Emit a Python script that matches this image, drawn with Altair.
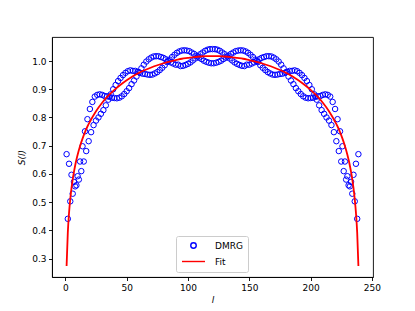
import altair as alt
import pandas as pd

# site index l = 1 .. 239
l_values = list(range(1, 240))

# DMRG entanglement entropy, l = 1 .. 120
dmrg_left = [
    0.670, 0.441, 0.636, 0.503, 0.597, 0.530, 0.572, 0.556, 0.560, 0.592,
    0.580, 0.644, 0.610, 0.698, 0.644, 0.751, 0.681, 0.794, 0.716, 0.830,
    0.748, 0.855, 0.773, 0.874, 0.789, 0.880, 0.800, 0.882, 0.813, 0.880,
    0.826, 0.876, 0.843, 0.875, 0.863, 0.873, 0.882, 0.870, 0.900, 0.869,
    0.915, 0.868, 0.929, 0.870, 0.940, 0.875, 0.950, 0.883, 0.958, 0.893,
    0.964, 0.904, 0.967, 0.918, 0.965, 0.931, 0.965, 0.945, 0.962, 0.960,
    0.958, 0.974, 0.955, 0.987, 0.954, 0.998, 0.952, 1.006, 0.951, 1.012,
    0.952, 1.016, 0.956, 1.017, 0.961, 1.017, 0.968, 1.014, 0.976, 1.011,
    0.985, 1.006, 0.996, 1.000, 1.005, 0.995, 1.014, 0.991, 1.022, 0.987,
    1.029, 0.987, 1.034, 0.982, 1.037, 0.983, 1.038, 0.986, 1.037, 0.990,
    1.035, 0.995, 1.030, 1.002, 1.025, 1.009, 1.019, 1.016, 1.012, 1.024,
    1.007, 1.030, 1.001, 1.036, 0.997, 1.040, 0.994, 1.042, 0.992, 1.042,
]
# DMRG entanglement entropy, l = 121 .. 239
dmrg_right = [
    0.992, 1.042, 0.994, 1.040, 0.997, 1.036, 1.001, 1.030, 1.007, 1.024,
    1.012, 1.016, 1.019, 1.009, 1.025, 1.002, 1.030, 0.995, 1.035, 0.990,
    1.037, 0.986, 1.038, 0.983, 1.037, 0.982, 1.034, 0.987, 1.029, 0.987,
    1.022, 0.991, 1.014, 0.995, 1.005, 1.000, 0.996, 1.006, 0.985, 1.011,
    0.976, 1.014, 0.968, 1.017, 0.961, 1.017, 0.956, 1.016, 0.952, 1.012,
    0.951, 1.006, 0.952, 0.998, 0.954, 0.987, 0.955, 0.974, 0.958, 0.960,
    0.962, 0.945, 0.965, 0.931, 0.965, 0.918, 0.967, 0.904, 0.964, 0.893,
    0.958, 0.883, 0.950, 0.875, 0.940, 0.870, 0.929, 0.868, 0.915, 0.869,
    0.900, 0.870, 0.882, 0.873, 0.863, 0.875, 0.843, 0.876, 0.826, 0.880,
    0.813, 0.882, 0.800, 0.880, 0.789, 0.874, 0.773, 0.855, 0.748, 0.830,
    0.716, 0.794, 0.681, 0.751, 0.644, 0.698, 0.610, 0.644, 0.580, 0.592,
    0.560, 0.556, 0.572, 0.530, 0.597, 0.503, 0.636, 0.441, 0.670,
]
dmrg_values = dmrg_left + dmrg_right

# fitted curve
fit_l = [1, 2, 3, 4, 5, 6, 7, 8, 9, 10, 12, 14, 16, 18, 20, 25, 30, 35, 40, 45,
         50, 55, 60, 65, 70, 75, 80, 85, 90, 95, 100, 105, 110, 115, 120,
         125, 130, 135, 140, 145, 150, 155, 160, 165, 170, 175, 180, 185, 190,
         195, 200, 205, 210, 215, 220, 222, 224, 226, 228, 230, 231, 232, 233,
         234, 235, 236, 237, 238, 239]
fit_s = [0.274, 0.393, 0.462, 0.511, 0.550, 0.581, 0.607, 0.630, 0.650, 0.668,
         0.699, 0.725, 0.748, 0.768, 0.785, 0.822, 0.852, 0.877, 0.898, 0.916,
         0.932, 0.946, 0.958, 0.968, 0.977, 0.985, 0.992, 0.998, 1.003, 1.008,
         1.011, 1.014, 1.016, 1.017, 1.017,
         1.017, 1.016, 1.014, 1.011, 1.008, 1.003, 0.998, 0.992, 0.985, 0.977,
         0.968, 0.958, 0.946, 0.932, 0.916, 0.898, 0.877, 0.852, 0.822, 0.785,
         0.768, 0.748, 0.725, 0.699, 0.668, 0.650, 0.630, 0.607, 0.581, 0.550,
         0.511, 0.462, 0.393, 0.274]

series_names = ["DMRG", "Fit"]
series_colors = ["#0000ff", "#ff0000"]
series_shapes = ["circle", "M-4.2,0L4.2,0"]

x_ticks = [0, 50, 100, 150, 200, 250]
y_ticks = [0.3, 0.4, 0.5, 0.6, 0.7, 0.8, 0.9, 1.0]

dmrg_df = pd.DataFrame({"l": l_values, "S": dmrg_values, "series": "DMRG"})
fit_df = pd.DataFrame({"l": fit_l, "S": fit_s, "series": "Fit"})

FONT = "DejaVu Sans"

x_scale = alt.Scale(domain=[-10.9, 250.9], nice=False, zero=False)
y_scale = alt.Scale(domain=[0.235, 1.085], nice=False, zero=False)

x_enc = alt.X("l:Q", scale=x_scale,
              axis=alt.Axis(values=x_ticks, title="l", titleFontStyle="italic",
                            titleFontWeight="normal", format="d"))
y_enc = alt.Y("S:Q", scale=y_scale,
              axis=alt.Axis(values=y_ticks, title="S(l)", titleFontStyle="italic",
                            titleFontWeight="normal", format=".1f"))

legend_opts = dict(title=None, orient="none", legendX=124, legendY=199,
                   padding=5, symbolOffset=8, labelOffset=17,
                   rowPadding=5, symbolSize=30,
                   symbolStrokeWidth=1.4,
                   symbolFillColor="transparent",
                   strokeColor="#cccccc", cornerRadius=2,
                   fillColor="white", labelFontSize=9,
                   labelFont=FONT, labelColor="black")

points = alt.Chart(dmrg_df).mark_point(
    filled=False, size=30, strokeWidth=1, opacity=1
).encode(
    x=x_enc,
    y=y_enc,
    color=alt.Color("series:N",
                    scale=alt.Scale(domain=series_names, range=series_colors),
                    legend=alt.Legend(**legend_opts)),
    shape=alt.Shape("series:N",
                    scale=alt.Scale(domain=series_names, range=series_shapes),
                    legend=alt.Legend(**legend_opts)),
)

fit_line = alt.Chart(fit_df).mark_line(
    color="#ff0000", strokeWidth=1.8, interpolate="monotone"
).encode(x=x_enc, y=y_enc)

chart = alt.layer(points, fit_line).properties(
    width=321, height=240,
    padding={"left": 44, "top": 29, "right": 30, "bottom": 30},
    autosize="none",
).configure(
    font=FONT,
).configure_view(
    stroke="black", strokeWidth=0.9,
).configure_axis(
    grid=False,
    domainColor="black", domainWidth=0.9,
    tickColor="black", tickWidth=0.9, tickSize=3.5,
    labelColor="black", labelFontSize=9, labelFont=FONT, labelPadding=2.5,
    titleColor="black", titleFontSize=9, titleFont=FONT,
).configure_axisX(
    titlePadding=3,
).configure_axisY(
    titlePadding=5,
)

chart.save("out.html", embed_options={"renderer": "svg", "actions": False})
